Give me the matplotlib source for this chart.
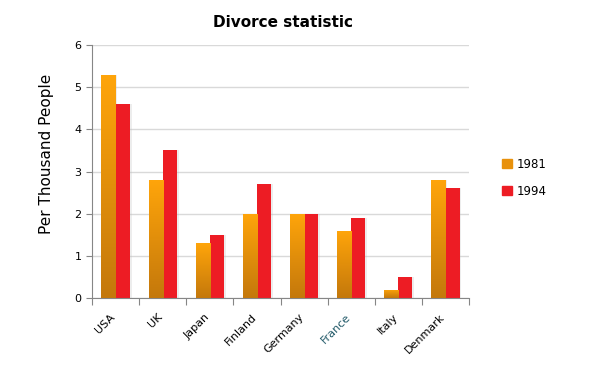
import numpy as np
import matplotlib
matplotlib.use('Agg')
import matplotlib.pyplot as plt
import matplotlib.transforms as mtransforms
from matplotlib.colors import LinearSegmentedColormap
from matplotlib.patches import Patch

countries = ['USA', 'UK', 'Japan', 'Finland', 'Germany', 'France', 'Italy', 'Denmark']
rate_1981 = [5.3, 2.8, 1.3, 2.0, 2.0, 1.6, 0.2, 2.8]
rate_1994 = [4.6, 3.5, 1.5, 2.7, 2.0, 1.9, 0.5, 2.6]

fig = plt.figure(figsize=(6.03, 3.76), dpi=100)
ax = fig.add_axes([0.1526, 0.2074, 0.6252, 0.6726])

x = np.arange(len(countries))
w = 0.3

# soft shadow behind bars
ax.bar(x - w / 2 + 0.04, rate_1981, w, color='#BBBBBB', alpha=0.25, zorder=1)
ax.bar(x + w / 2 + 0.04, rate_1994, w, color='#BBBBBB', alpha=0.25, zorder=1)

bars81 = ax.bar(x - w / 2, rate_1981, w, color='#F29B0C', zorder=2)
ax.bar(x + w / 2, rate_1994, w, color='#ED1C24', zorder=2)

# orange gradient, darker at the bottom
cmap = LinearSegmentedColormap.from_list('orng', ['#C4780C', '#FFA50A'])
grad = np.linspace(0, 1, 100).reshape(-1, 1)
for b in bars81:
    x0, y0 = b.get_x(), b.get_y()
    im = ax.imshow(grad, cmap=cmap, origin='lower', aspect='auto',
                   extent=[x0, x0 + b.get_width(), y0, y0 + b.get_height()], zorder=3)
    im.set_clip_path(b)

ax.set_xlim(-0.5, len(countries) - 0.5)
ax.set_ylim(0, 6)
ax.set_yticks(range(7))
ax.grid(axis='y', color='#D9D9D9', linewidth=1, zorder=0)
ax.set_axisbelow(True)

ax.set_xticks(np.arange(len(countries) + 1) - 0.5)
ax.set_xticklabels([])
ax.set_xticks(x, minor=True)
ax.set_xticklabels(countries, minor=True, rotation=45, ha='right',
                   rotation_mode='anchor', fontsize=8)
ax.tick_params(axis='x', which='minor', length=0, pad=10)
ax.tick_params(axis='x', which='major', length=5, color='#868686')
ax.tick_params(axis='y', length=4, color='#868686', labelsize=8)
shift = mtransforms.ScaledTranslation(-4 / 72, 0, fig.dpi_scale_trans)
for lbl in ax.get_xticklabels(minor=True):
    lbl.set_transform(lbl.get_transform() + shift)
ax.get_xticklabels(minor=True)[5].set_color('#215968')

for s in ['top', 'right']:
    ax.spines[s].set_visible(False)
for s in ['left', 'bottom']:
    ax.spines[s].set_color('#868686')

ax.set_ylim(0, 6)
ax.set_xlim(-0.5, len(countries) - 0.5)

ax.set_ylabel('Per Thousand People', fontsize=11)
ax.yaxis.set_label_coords(-0.1, 0.57)
fig.text(0.47, 0.94, 'Divorce statistic', ha='center', va='center',
         fontsize=11, fontweight='bold')

handles = [Patch(color='#E8910C'), Patch(color='#ED1C24')]
fig.legend(handles, ['1981', '1994'], loc='center left',
           bbox_to_anchor=(0.815, 0.527), frameon=False, fontsize=8.5,
           handlelength=0.8, handleheight=0.8, labelspacing=1.2, handletextpad=0.4)

fig.savefig('out.png', dpi=100)
